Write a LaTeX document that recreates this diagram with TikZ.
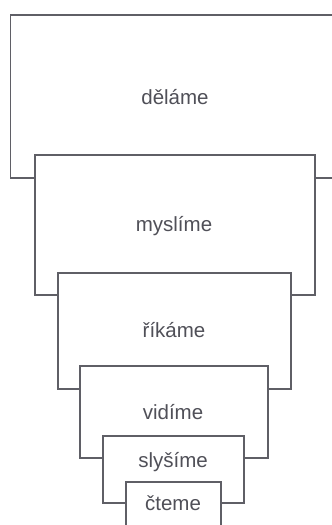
\documentclass[tikz,border=0pt]{standalone}
\usepackage{fontspec}
\setmainfont{Liberation Sans}
\definecolor{linec}{HTML}{5F5F66}
\definecolor{textc}{HTML}{505058}
\begin{document}
\begin{tikzpicture}[x=1pt,y=-1pt,
  box/.style={draw=linec, line width=1.3pt, fill=white, rectangle, inner sep=0pt, outer sep=0pt},
  lbl/.style={text=textc, font=\fontsize{20.5}{24}\selectfont, inner sep=0pt}]
\useasboundingbox (0,0) rectangle (332,525);
\clip (0,0) rectangle (332,525);
\fill[white] (0,0) rectangle (332,525);
\node[box, minimum width=324pt, minimum height=163pt] (b1) at (172.5,96.5) {};
\node[box, minimum width=280pt, minimum height=140pt] (b2) at (175,225) {};
\node[box, minimum width=233pt, minimum height=116pt] (b3) at (174.5,331) {};
\node[box, minimum width=188pt, minimum height=92pt] (b4) at (174,412) {};
\node[box, minimum width=141pt, minimum height=67pt] (b5) at (173.5,469.5) {};
\node[box, minimum width=95pt, minimum height=50pt] (b6) at (173.5,507) {};
\node[lbl] (t1) at (175,97) {děláme};
\node[lbl] (t2) at (174,226) {myslíme};
\node[lbl] (t3) at (174,330) {říkáme};
\node[lbl] (t4) at (173,412) {vidíme};
\node[lbl] (t5) at (173,462) {slyšíme};
\node[lbl] (t6) at (173,503) {čteme};
\end{tikzpicture}
\end{document}
